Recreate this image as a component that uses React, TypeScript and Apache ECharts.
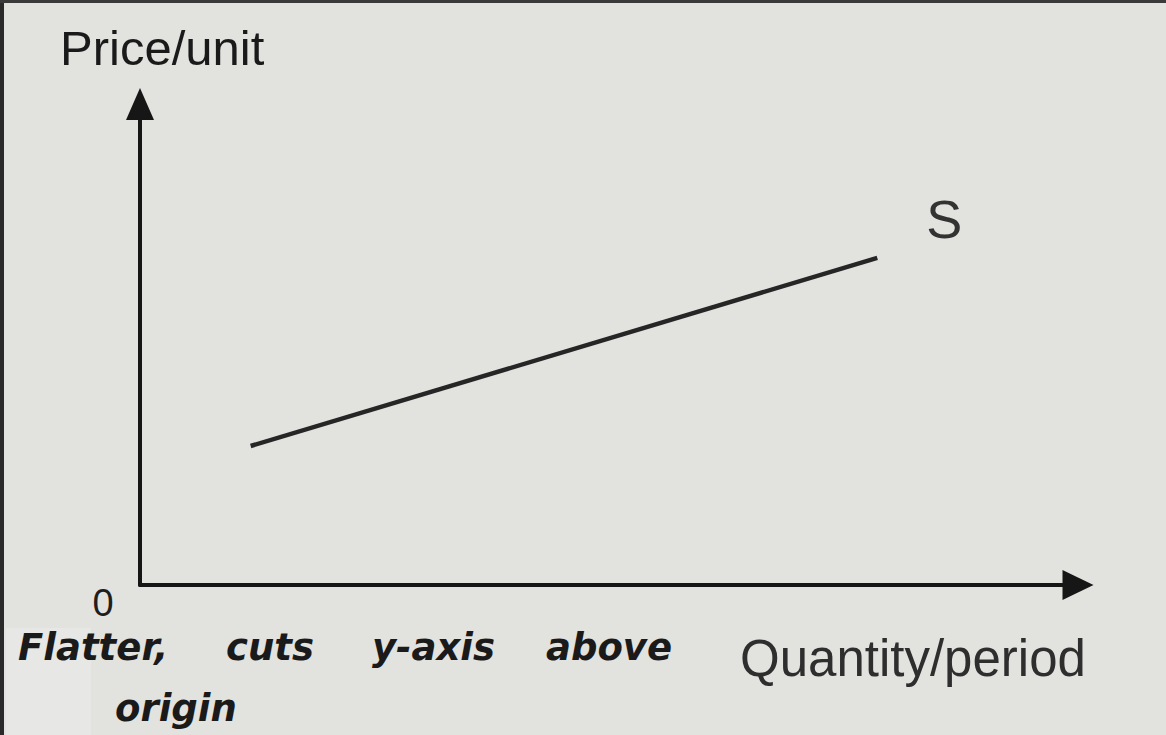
import React, { useEffect, useRef } from "react";
import * as echarts from "echarts";

// Supply curve S: two end points (quantity, price) in arbitrary units
const supplyQuantity = [1.18, 7.86];
const supplyPrice = [2.89, 6.8];
const curveName = "S";
const xAxisTitle = "Quantity/period";
const yAxisTitle = "Price/unit";
const originLabel = "0";
const noteWords = ["Flatter,", "cuts", "y-axis", "above"];
const noteWordsLine2 = ["origin"];

export default function App() {
  const ref = useRef<HTMLDivElement>(null);
  useEffect(() => {
    if (!ref.current) return;
    const chart = echarts.init(ref.current, null, { renderer: "svg" });
    const axisColor = "#161616";
    const hand = {
      fontFamily: "DejaVu Sans",
      fontStyle: "italic",
      fontWeight: "bold",
      fontSize: 37,
      fill: "#1a1a1a",
    };
    const noteX = [18, 226, 372, 546];
    chart.setOption({
      animation: false,
      backgroundColor: "#e2e2df",
      grid: { left: 140, right: 88, top: 104, bottom: 150 },
      xAxis: {
        type: "value",
        min: 0,
        max: 10,
        axisLine: {
          show: true,
          onZero: false,
          symbol: ["none", "triangle"],
          symbolSize: [30, 31],
          lineStyle: { color: axisColor, width: 4 },
        },
        axisTick: { show: false },
        axisLabel: { show: false },
        splitLine: { show: false },
      },
      yAxis: {
        type: "value",
        min: 0,
        max: 10,
        axisLine: {
          show: true,
          onZero: false,
          symbol: ["none", "triangle"],
          symbolSize: [28, 32],
          lineStyle: { color: axisColor, width: 4 },
        },
        axisTick: { show: false },
        axisLabel: { show: false },
        splitLine: { show: false },
      },
      series: [
        {
          type: "line",
          name: curveName,
          data: supplyQuantity.map((q, i) => [q, supplyPrice[i]]),
          symbol: "none",
          lineStyle: { color: "#262626", width: 4.5 },
          endLabel: {
            show: true,
            formatter: curveName,
            offset: [41, -39],
            fontFamily: "Liberation Sans",
            fontSize: 54,
            color: "#333333",
          },
        },
      ],
      graphic: [
        { type: "rect", shape: { x: 0, y: 0, width: 4, height: 735 }, style: { fill: "#2a2a2a" } },
        { type: "rect", shape: { x: 0, y: 0, width: 1166, height: 3 }, style: { fill: "#3a3a3a" } },
        { type: "rect", shape: { x: 6, y: 628, width: 85, height: 107 }, style: { fill: "#e7e7e5" } },
        {
          type: "text",
          x: 60,
          y: 48,
          style: {
            text: yAxisTitle,
            fontFamily: "Liberation Sans",
            fontSize: 49,
            fill: "#1a1a1a",
            textVerticalAlign: "middle",
          },
        },
        {
          type: "text",
          x: 740,
          y: 658,
          style: {
            text: xAxisTitle,
            fontFamily: "Liberation Sans",
            fontSize: 51,
            fill: "#2e2e2e",
            textVerticalAlign: "middle",
          },
        },
        {
          type: "text",
          x: 103,
          y: 603,
          style: {
            text: originLabel,
            fontFamily: "Liberation Sans",
            fontSize: 38,
            fill: "#1e1e1e",
            textAlign: "center",
            textVerticalAlign: "middle",
          },
        },
        ...noteWords.map((w, i) => ({
          type: "text",
          x: noteX[i],
          y: 647,
          style: { ...hand, text: w, textVerticalAlign: "middle" },
        })),
        ...noteWordsLine2.map((w) => ({
          type: "text",
          x: 115,
          y: 708,
          style: { ...hand, text: w, textVerticalAlign: "middle" },
        })),
      ],
    });
    return () => chart.dispose();
  }, []);
  return (
    <div
      ref={ref}
      style={{ position: "fixed", left: 0, top: 0, width: 1166, height: 735 }}
    />
  );
}
